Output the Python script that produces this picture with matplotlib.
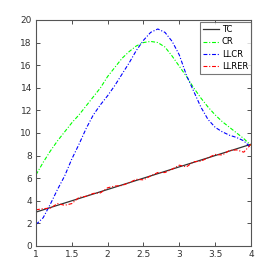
import matplotlib
matplotlib.use('Agg')
import matplotlib.pyplot as plt

# values
x = [1.0, 1.1, 1.2, 1.3, 1.4, 1.5, 1.6, 1.7, 1.8, 1.9, 2.0,
     2.1, 2.2, 2.3, 2.4, 2.5, 2.6, 2.7, 2.8, 2.9, 3.0,
     3.1, 3.2, 3.3, 3.4, 3.5, 3.6, 3.7, 3.8, 3.9, 4.0]

tc = [3.0, 3.2, 3.4, 3.6, 3.8, 4.0, 4.2, 4.4, 4.6, 4.8, 5.0,
      5.2, 5.4, 5.6, 5.8, 6.0, 6.2, 6.4, 6.6, 6.8, 7.0,
      7.2, 7.4, 7.6, 7.8, 8.0, 8.2, 8.4, 8.6, 8.8, 9.0]

cr = [6.3, 7.4, 8.4, 9.3, 10.1, 10.9, 11.6, 12.4, 13.2, 14.0, 15.0,
      15.8, 16.6, 17.2, 17.7, 18.0, 18.1, 18.0, 17.6, 16.8, 15.9,
      15.0, 14.0, 13.1, 12.3, 11.6, 11.0, 10.5, 10.0, 9.5, 8.9]

llcr = [1.9, 2.5, 3.7, 5.0, 6.2, 7.7, 9.0, 10.4, 11.6, 12.5, 13.3,
        14.2, 15.2, 16.2, 17.3, 18.2, 18.9, 19.2, 18.9, 18.1, 16.9,
        15.1, 13.7, 12.3, 11.2, 10.5, 10.1, 9.8, 9.6, 9.3, 8.7]

llrer = [3.2, 3.3, 3.35, 3.75, 3.6, 3.75, 4.3, 4.4, 4.65, 4.7, 5.15,
         5.3, 5.35, 5.6, 5.9, 5.85, 6.2, 6.5, 6.5, 6.8, 7.15,
         7.0, 7.45, 7.5, 7.8, 8.1, 8.05, 8.45, 8.5, 8.3, 9.0]

xticks = [1, 1.5, 2, 2.5, 3, 3.5, 4]
xticklabels = ['1', '1.5', '2', '2.5', '3', '3.5', '4']
yticks = [0, 2, 4, 6, 8, 10, 12, 14, 16, 18, 20]

dashdot = (0, (3.5, 1.6, 1.0, 1.6))

fig = plt.figure(figsize=(2.77, 2.77), dpi=100)
ax = fig.add_axes([0.13, 0.112, 0.776, 0.816])

ax.plot(x, tc, color='#333333', lw=0.9, label='TC')
ax.plot(x, cr, color='#00ff00', lw=0.8, ls=dashdot, label='CR')
ax.plot(x, llcr, color='#0000ff', lw=0.8, ls=dashdot, label='LLCR')
ax.plot(x, llrer, color='#ff0000', lw=0.8, ls=dashdot, label='LLRER')

ax.set_xlim(1, 4)
ax.set_ylim(0, 20)
ax.set_xticks(xticks)
ax.set_xticklabels(xticklabels)
ax.set_yticks(yticks)
ax.tick_params(direction='in', top=True, right=True, length=3, width=0.6,
               labelsize=6, colors='#333333', pad=3)
for lbl in ax.get_xticklabels() + ax.get_yticklabels():
    lbl.set_fontfamily('Liberation Sans Narrow')
    lbl.set_fontsize(6.5)
for s in ax.spines.values():
    s.set_color('#555555')
    s.set_linewidth(0.8)

leg = ax.legend(loc='upper right', bbox_to_anchor=(1.0, 0.99), borderaxespad=0,
                prop={'family': 'Liberation Sans Narrow', 'size': 6},
                fancybox=False, handlelength=2.0, labelspacing=0.4,
                borderpad=0.35, handletextpad=0.3)
leg.get_frame().set_edgecolor('#555555')
leg.get_frame().set_linewidth(0.8)

fig.savefig('out.png', dpi=100)
